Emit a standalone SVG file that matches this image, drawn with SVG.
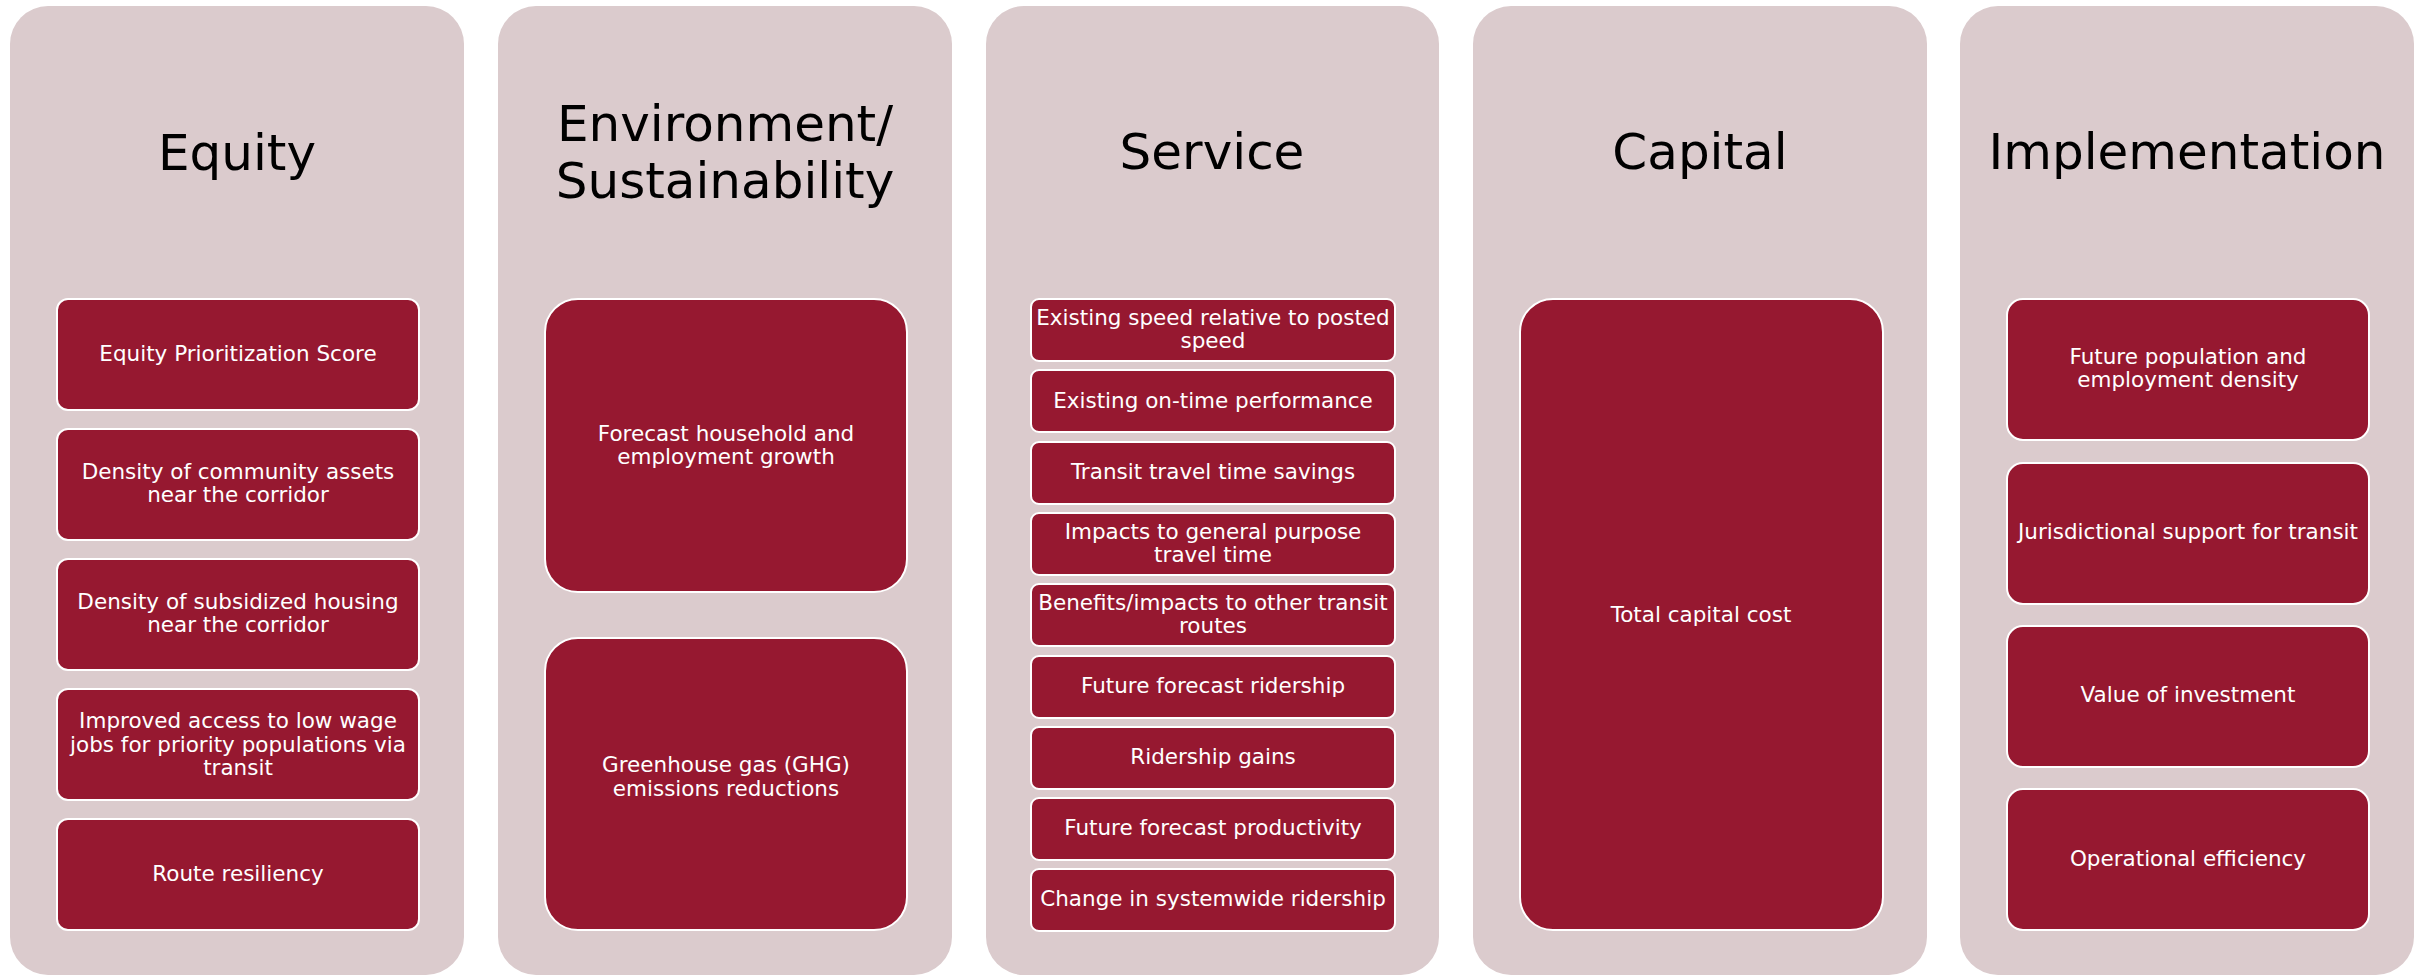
<svg xmlns="http://www.w3.org/2000/svg" width="2427" height="976" viewBox="0 0 2427 976">
<style>
.panel{fill:#DBCBCD;}
.box{fill:#961830;stroke:#FFFFFF;stroke-width:2;}
.title{font-family:"DejaVu Sans","Liberation Sans",sans-serif;font-size:50px;fill:#000000;text-anchor:middle;}
.lbl{font-family:"DejaVu Sans","Liberation Sans",sans-serif;font-size:21.5px;fill:#FFFFFF;text-anchor:middle;}
</style>
<rect width="2427" height="976" fill="#FFFFFF"/>
<g id="connectors"/>

<g id="panel-equity">
<rect class="panel" x="10" y="6" width="454" height="969" rx="38" ry="38"/>
<text class="title" x="237" y="170">Equity</text>
</g>
<g id="eq-1"><rect class="box" x="57" y="299" width="362" height="111" rx="11"/>
<text class="lbl" x="238" y="361">Equity Prioritization Score</text></g>
<g id="eq-2"><rect class="box" x="57" y="429" width="362" height="111" rx="11"/>
<text class="lbl" x="238" y="479">Density of community assets</text>
<text class="lbl" x="238" y="502">near the corridor</text></g>
<g id="eq-3"><rect class="box" x="57" y="559" width="362" height="111" rx="11"/>
<text class="lbl" x="238" y="609">Density of subsidized housing</text>
<text class="lbl" x="238" y="632">near the corridor</text></g>
<g id="eq-4"><rect class="box" x="57" y="689" width="362" height="111" rx="11"/>
<text class="lbl" x="238" y="728">Improved access to low wage</text>
<text class="lbl" x="238" y="751.5">jobs for priority populations via</text>
<text class="lbl" x="238" y="775">transit</text></g>
<g id="eq-5"><rect class="box" x="57" y="819" width="362" height="111" rx="11"/>
<text class="lbl" x="238" y="881">Route resiliency</text></g>

<g id="panel-environment">
<rect class="panel" x="498" y="6" width="454" height="969" rx="38" ry="38"/>
<text class="title" x="725" y="141">Environment/</text>
<text class="title" x="725" y="198">Sustainability</text>
</g>
<g id="env-1"><rect class="box" x="545" y="299" width="362" height="293" rx="33"/>
<text class="lbl" x="726" y="440.5">Forecast household and</text>
<text class="lbl" x="726" y="464">employment growth</text></g>
<g id="env-2"><rect class="box" x="545" y="638" width="362" height="292" rx="33"/>
<text class="lbl" x="726" y="772">Greenhouse gas (GHG)</text>
<text class="lbl" x="726" y="795.5">emissions reductions</text></g>

<g id="panel-service">
<rect class="panel" x="986" y="6" width="453" height="969" rx="38" ry="38"/>
<text class="title" x="1212" y="169">Service</text>
</g>
<g id="sv-1"><rect class="box" x="1031" y="299" width="364" height="62" rx="8"/>
<text class="lbl" x="1213" y="324.5">Existing speed relative to posted</text>
<text class="lbl" x="1213" y="347.5">speed</text></g>
<g id="sv-2"><rect class="box" x="1031" y="370" width="364" height="62" rx="8"/>
<text class="lbl" x="1213" y="407.5">Existing on-time performance</text></g>
<g id="sv-3"><rect class="box" x="1031" y="442" width="364" height="62" rx="8"/>
<text class="lbl" x="1213" y="479">Transit travel time savings</text></g>
<g id="sv-4"><rect class="box" x="1031" y="513" width="364" height="62" rx="8"/>
<text class="lbl" x="1213" y="538.5">Impacts to general purpose</text>
<text class="lbl" x="1213" y="561.5">travel time</text></g>
<g id="sv-5"><rect class="box" x="1031" y="584" width="364" height="62" rx="8"/>
<text class="lbl" x="1213" y="609.5">Benefits/impacts to other transit</text>
<text class="lbl" x="1213" y="632.5">routes</text></g>
<g id="sv-6"><rect class="box" x="1031" y="656" width="364" height="62" rx="8"/>
<text class="lbl" x="1213" y="693">Future forecast ridership</text></g>
<g id="sv-7"><rect class="box" x="1031" y="727" width="364" height="62" rx="8"/>
<text class="lbl" x="1213" y="764">Ridership gains</text></g>
<g id="sv-8"><rect class="box" x="1031" y="798" width="364" height="62" rx="8"/>
<text class="lbl" x="1213" y="835">Future forecast productivity</text></g>
<g id="sv-9"><rect class="box" x="1031" y="869" width="364" height="62" rx="8"/>
<text class="lbl" x="1213" y="906">Change in systemwide ridership</text></g>

<g id="panel-capital">
<rect class="panel" x="1473" y="6" width="454" height="969" rx="38" ry="38"/>
<text class="title" x="1700" y="169">Capital</text>
</g>
<g id="cap-1"><rect class="box" x="1520" y="299" width="363" height="631" rx="33"/>
<text class="lbl" x="1701" y="622">Total capital cost</text></g>

<g id="panel-implementation">
<rect class="panel" x="1960" y="6" width="454" height="969" rx="38" ry="38"/>
<text class="title" x="2187" y="169">Implementation</text>
</g>
<g id="im-1"><rect class="box" x="2007" y="299" width="362" height="141" rx="16"/>
<text class="lbl" x="2188" y="363.5">Future population and</text>
<text class="lbl" x="2188" y="387">employment density</text></g>
<g id="im-2"><rect class="box" x="2007" y="463" width="362" height="141" rx="16"/>
<text class="lbl" x="2188" y="539">Jurisdictional support for transit</text></g>
<g id="im-3"><rect class="box" x="2007" y="626" width="362" height="141" rx="16"/>
<text class="lbl" x="2188" y="702">Value of investment</text></g>
<g id="im-4"><rect class="box" x="2007" y="789" width="362" height="141" rx="16"/>
<text class="lbl" x="2188" y="865.5">Operational efficiency</text></g>
</svg>
